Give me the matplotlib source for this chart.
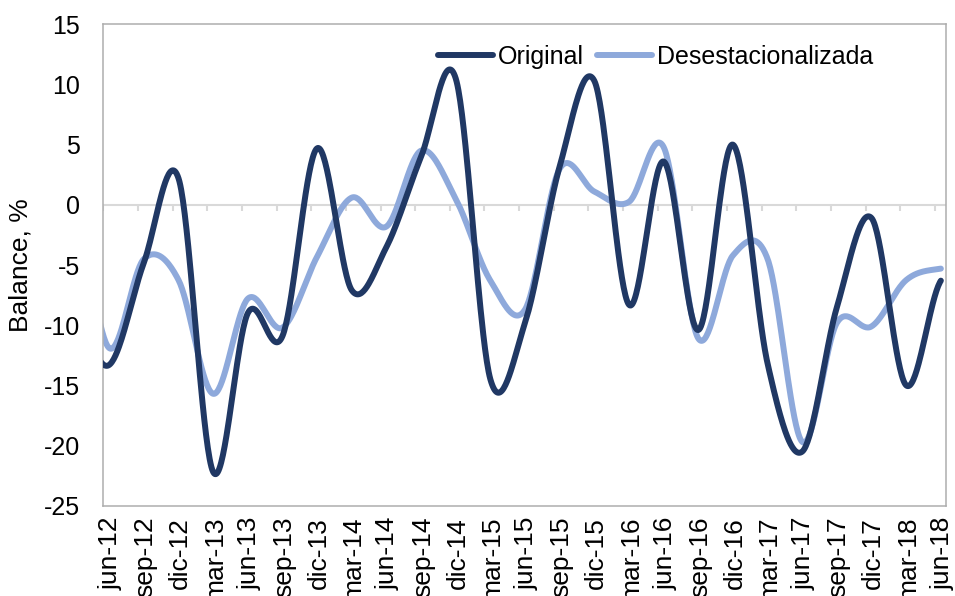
import numpy as np
import matplotlib
matplotlib.use("Agg")
import matplotlib.pyplot as plt

plt.rcParams["font.family"] = ["Liberation Sans", "DejaVu Sans"]
plt.rcParams["axes.unicode_minus"] = False

# ------------------- data (quarterly balance, %) -------------------
# first value (mar-12) lies left of the axis and is only partly visible
periods = ["mar-12", "jun-12", "sep-12", "dic-12", "mar-13", "jun-13", "sep-13",
           "dic-13", "mar-14", "jun-14", "sep-14", "dic-14", "mar-15", "jun-15",
           "sep-15", "dic-15", "mar-16", "jun-16", "sep-16", "dic-16", "mar-17",
           "jun-17", "sep-17", "dic-17", "mar-18", "jun-18"]
tick_labels = periods[1:]

original = [-9.0, -13.3, -4.8, 2.2, -22.2, -9.0, -10.9, 4.7, -7.1, -3.5, 4.0,
            10.5, -14.5, -9.8, 3.2, 10.3, -8.3, 3.6, -10.4, 5.0, -13.2, -20.5,
            -8.5, -1.1, -15.0, -6.3]
desest = [0.0, -11.9, -4.5, -6.25, -15.7, -7.8, -10.2, -4.3, 0.6, -1.8, 4.5,
          0.5, -6.3, -8.7, 3.0, 1.1, 0.25, 4.8, -11.1, -4.2, -4.5, -19.7, -9.8,
          -10.1, -6.25, -5.3]

DATE_SHIFT = 0.17   # data are dated a little after the tick (date axis)
DARK = "#203864"
LIGHT = "#8EA9DB"


def smooth(xs, ys, n=40):
    """Catmull-Rom curve through the points (like Excel's smoothed line)."""
    xs = np.asarray(xs, float)
    ys = np.asarray(ys, float)
    t = np.linspace(0, 1, n)
    h00 = 2 * t**3 - 3 * t**2 + 1
    h10 = t**3 - 2 * t**2 + t
    h01 = -2 * t**3 + 3 * t**2
    h11 = t**3 - t**2
    out_x, out_y = [], []
    for k in range(len(xs) - 1):
        y_prev = ys[k - 1] if k > 0 else ys[k]
        y_next = ys[k + 2] if k + 2 < len(ys) else ys[k + 1]
        m0 = (ys[k + 1] - y_prev) / 2
        m1 = (y_next - ys[k]) / 2
        out_y.append(h00 * ys[k] + h10 * m0 + h01 * ys[k + 1] + h11 * m1)
        out_x.append(xs[k] + t * (xs[k + 1] - xs[k]))
    return np.concatenate(out_x), np.concatenate(out_y)


x = np.arange(len(periods)) - 1 + DATE_SHIFT

fig = plt.figure(figsize=(9.55, 5.96), dpi=100)
ax = fig.add_axes([0.1082, 0.1515, 0.8828, 0.8077])

ax.axhline(0, color="#D9D9D9", lw=1.5, zorder=1)
ax.vlines(np.arange(len(tick_labels)), -0.5, 0, color="#D9D9D9", lw=1.5,
          zorder=1)

sx, sy = smooth(x, original)
ax.plot(sx, sy, color=DARK, lw=4.3, solid_capstyle="round", label="Original",
        zorder=3)
sx, sy = smooth(x, desest)
ax.plot(sx, sy, color=LIGHT, lw=4.3, solid_capstyle="round",
        label="Desestacionalizada", zorder=2)

ax.set_xlim(0, 24.33)
ax.set_ylim(-25, 15)
ax.set_yticks(np.arange(-25, 16, 5))
ax.set_xticks(np.arange(len(tick_labels)) + 0.22)
ax.set_xticklabels(tick_labels, rotation=90)
ax.tick_params(axis="x", length=0, pad=8, labelsize=19)
ax.tick_params(axis="y", length=0, pad=17, labelsize=18)
ax.set_ylabel("Balance, %", fontsize=19, labelpad=8)

for s in ax.spines.values():
    s.set_color("#ADADAD")
    s.set_linewidth(1.1)

leg = ax.legend(loc="center left", bbox_to_anchor=(0.397, 0.932), ncol=2,
                frameon=False, fontsize=18, handlelength=2.2,
                handletextpad=0.2, columnspacing=0.5, borderpad=0,
                borderaxespad=0)

fig.savefig("out.png", dpi=100)
